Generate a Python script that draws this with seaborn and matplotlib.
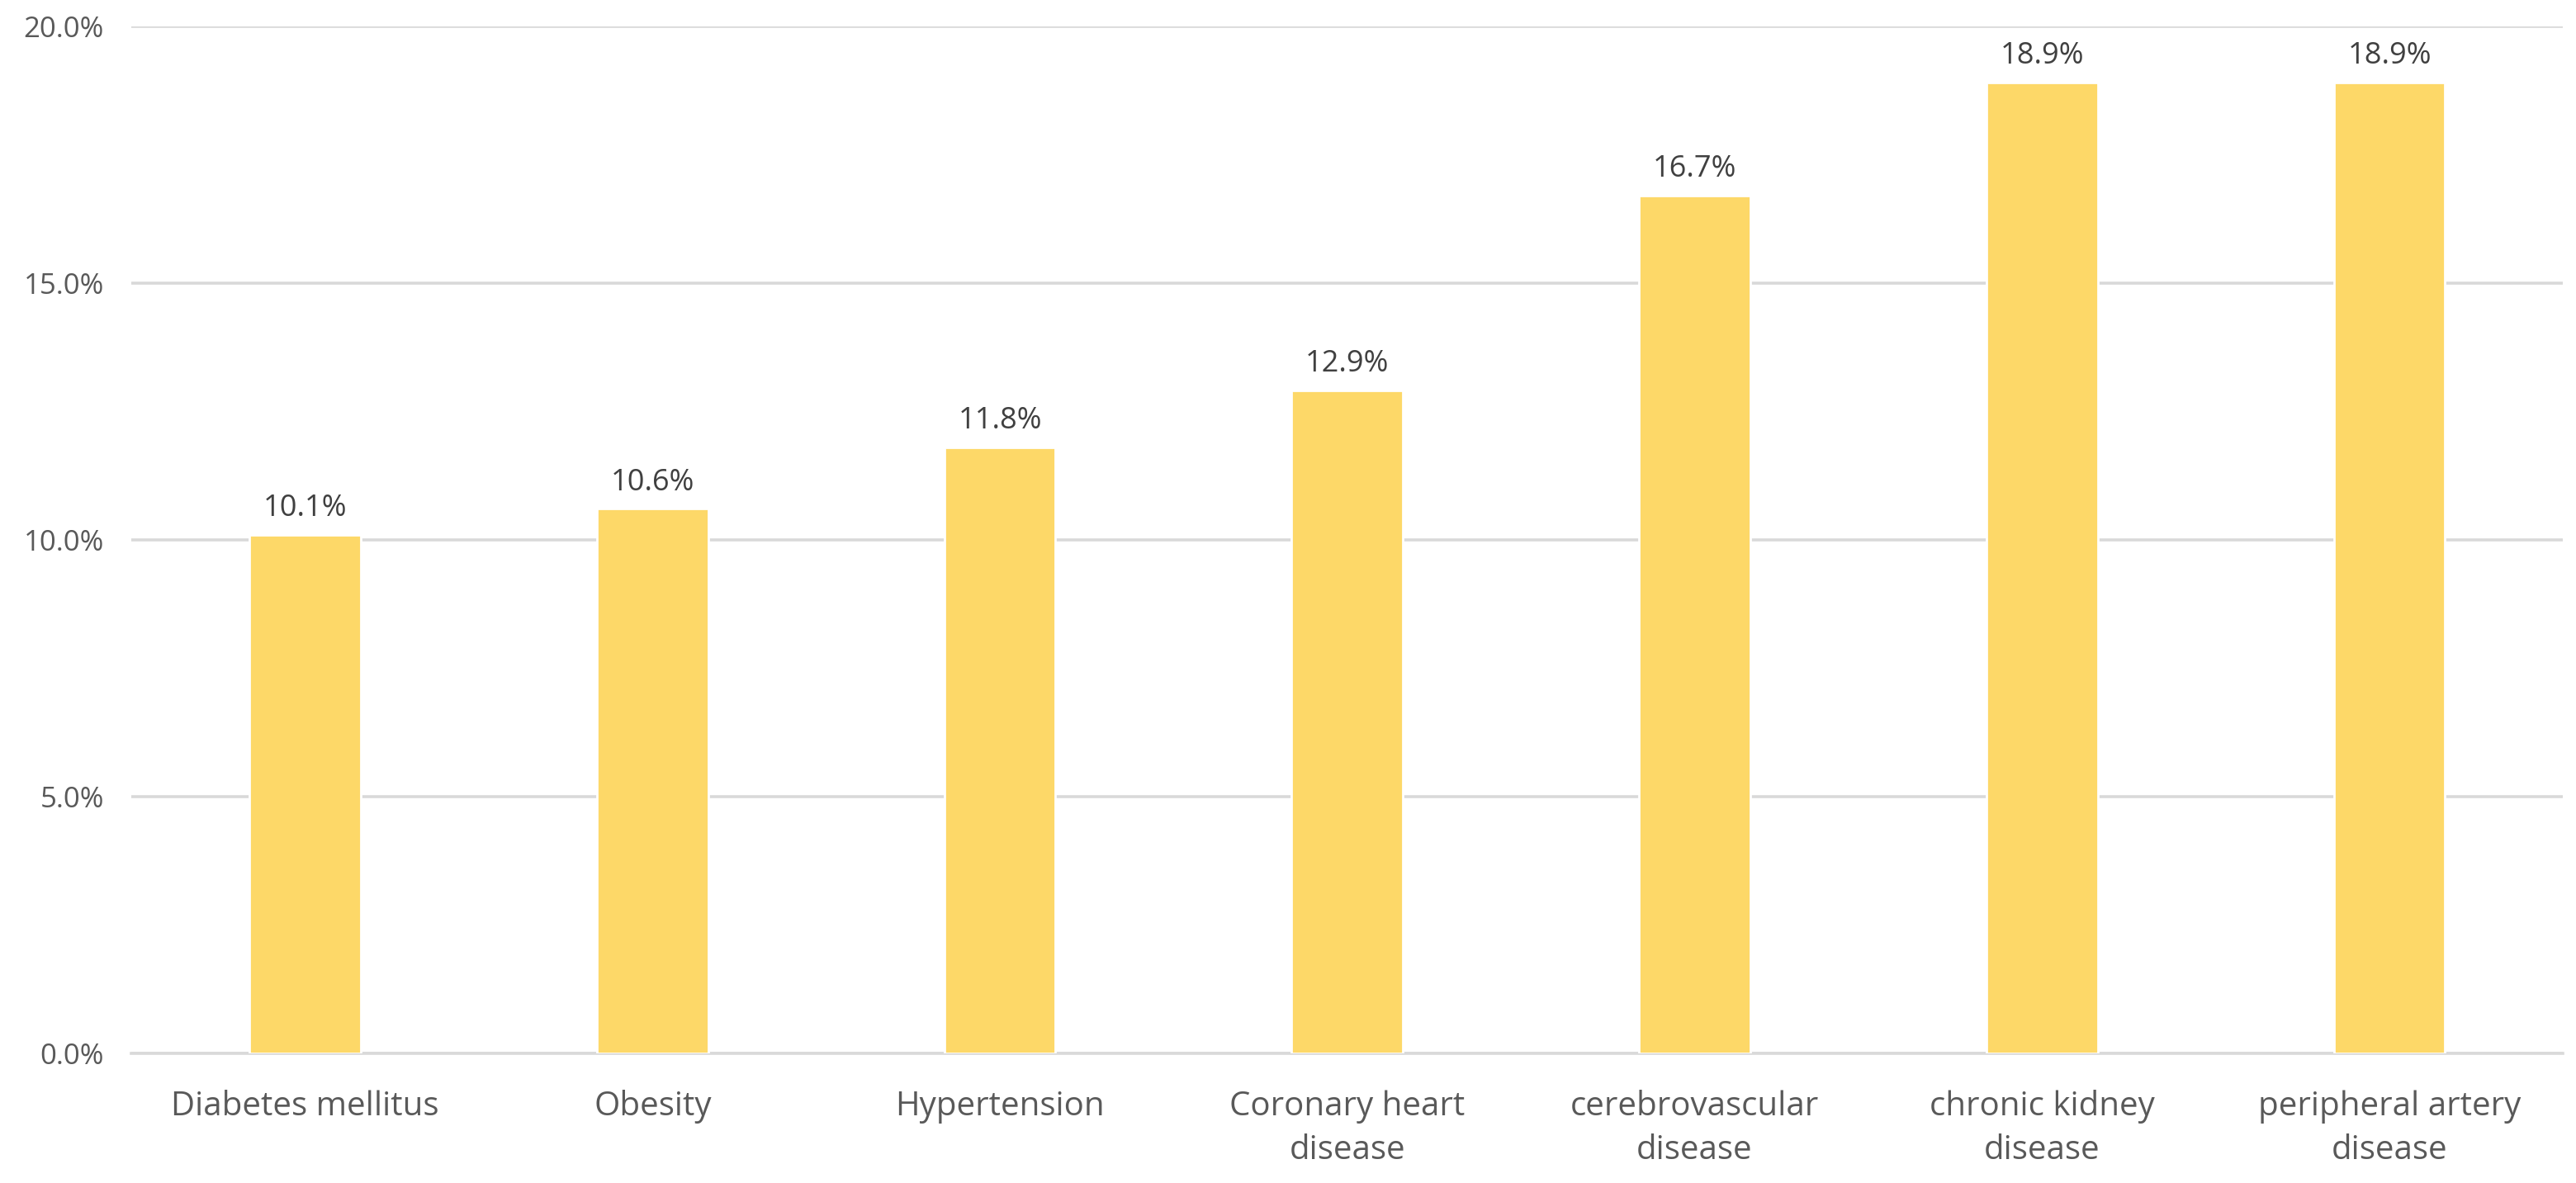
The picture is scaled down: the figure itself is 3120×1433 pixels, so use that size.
import matplotlib
matplotlib.use("Agg")
import matplotlib.pyplot as plt
import seaborn as sns
import pandas as pd
from matplotlib.ticker import PercentFormatter

# data
conditions = ["Diabetes mellitus", "Obesity", "Hypertension",
              "Coronary heart\ndisease", "cerebrovascular\ndisease",
              "chronic kidney\ndisease", "peripheral artery\ndisease"]
percent = [10.1, 10.6, 11.8, 12.9, 16.7, 18.9, 18.9]

df = pd.DataFrame({"condition": conditions, "percent": percent})

sns.set_style("white")
plt.rcParams["font.family"] = ["Open Sans", "DejaVu Sans"]

text_grey = "#595959"
grid_grey = "#D9D9D9"
bar_gold = "#FDD868"

fig = plt.figure(figsize=(15.6, 7.165), dpi=200)
ax = fig.add_axes([0.051, 0.1096, 0.944, 0.8684])

sns.barplot(data=df, x="condition", y="percent", color=bar_gold,
            width=0.32, saturation=1, ax=ax, zorder=3)

ax.set_ylim(0, 20)
ax.set_yticks([0, 5, 10, 15, 20])
ax.yaxis.set_major_formatter(PercentFormatter(decimals=1))
ax.set_xlim(-0.5, len(conditions) - 0.5)
ax.grid(axis="y", color=grid_grey, linewidth=1.3, zorder=0)
ax.grid(axis="x", visible=False)
for side in ["top", "right", "left"]:
    ax.spines[side].set_visible(False)
ax.spines["bottom"].set_color(grid_grey)
ax.spines["bottom"].set_linewidth(1.3)

ax.tick_params(axis="both", length=0, colors=text_grey)
ax.tick_params(axis="y", labelsize=12.5, pad=12)
ax.tick_params(axis="x", labelsize=14.5, pad=16)
for lbl in ax.get_xticklabels():
    lbl.set_linespacing(1.4)
ax.set_xlabel("")
ax.set_ylabel("")

# value labels
for i, v in enumerate(percent):
    ax.annotate(f"{v:.1f}%", (i, v), xytext=(0, 5), textcoords="offset points",
                ha="center", va="bottom", fontsize=13, color="#404040")

fig.savefig("out.png", dpi=200, facecolor="white")
